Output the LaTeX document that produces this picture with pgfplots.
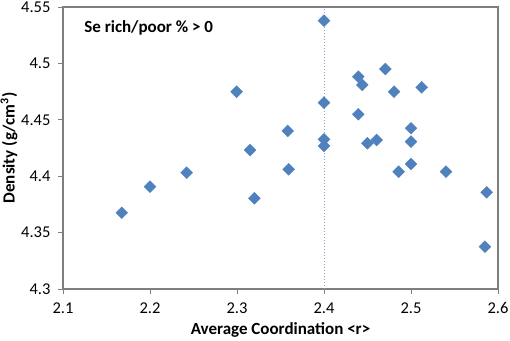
\documentclass[border=0pt]{standalone}
\usepackage{pgfplots}
\pgfplotsset{compat=1.18}
\usepackage{fontspec}
\setmainfont{Carlito}
\definecolor{xlblue}{HTML}{4F81BD}
\definecolor{xlgray}{HTML}{7F7F7F}
\begin{document}
\begin{tikzpicture}
\useasboundingbox (-63bp,-52bp) rectangle (447bp,289bp);
\begin{axis}[
  at={(0,0)}, anchor=south west,
  scale only axis, width=435bp, height=282bp,
  xmin=2.1, xmax=2.6, ymin=4.3, ymax=4.55,
  xtick={2.1,2.2,...,2.6},
  ytick={4.3,4.35,4.4,4.45,4.5,4.55},
  yticklabels={4.3,4.35,4.4,4.45,4.5,4.55},
  xticklabels={2.1,2.2,2.3,2.4,2.5,2.6},
  tick align=outside, tick pos=left,
  major tick length=5bp,
  axis line style={xlgray, line width=1.1bp},
  every tick/.style={xlgray, line width=0.8bp},
  ticklabel style={font=\fontsize{16.5bp}{18bp}\selectfont},
  yticklabel style={xshift=-4bp},
  xticklabel style={yshift=-5bp},
  xlabel={\bfseries Average Coordination <r>},
  ylabel={\bfseries Density (g/cm\textsuperscript{3})},
  label style={font=\fontsize{17bp}{19bp}\selectfont},
  xlabel style={at={(axis description cs:0.5,0)}, anchor=center, yshift=-41bp},
  ylabel style={at={(axis description cs:0,0.5)}, anchor=center, yshift=54bp},
  /pgf/number format/assume math mode=true,
  clip=false,
]
\addplot[xlblue!70, dash pattern=on 1.5bp off 1.5bp, line width=0.8bp] coordinates {(2.4,4.3) (2.4,4.55)};
\addplot[only marks, mark=square*, mark size=4.2bp,
  mark options={rotate=45, fill=xlblue, draw=xlblue}] coordinates {
  (2.1675,4.3676)
  (2.2,4.3907)
  (2.2422,4.4031)
  (2.2996,4.4749)
  (2.315,4.4232)
  (2.32,4.3804)
  (2.3583,4.4401)
  (2.3594,4.4061)
  (2.4,4.5379)
  (2.4,4.4652)
  (2.4,4.4327)
  (2.4,4.4268)
  (2.4394,4.4882)
  (2.444,4.4809)
  (2.4705,4.495)
  (2.4805,4.4749)
  (2.5123,4.4788)
  (2.4394,4.4549)
  (2.5,4.4425)
  (2.4498,4.4292)
  (2.4605,4.4321)
  (2.5,4.4306)
  (2.5,4.4108)
  (2.4858,4.404)
  (2.5402,4.404)
  (2.587,4.3857)
  (2.585,4.3375)
};
\node[anchor=west, font=\bfseries\fontsize{17bp}{19bp}\selectfont]
  at (axis cs:2.1205,4.5315) {Se rich/poor \% > 0};
\end{axis}
\end{tikzpicture}
\end{document}
